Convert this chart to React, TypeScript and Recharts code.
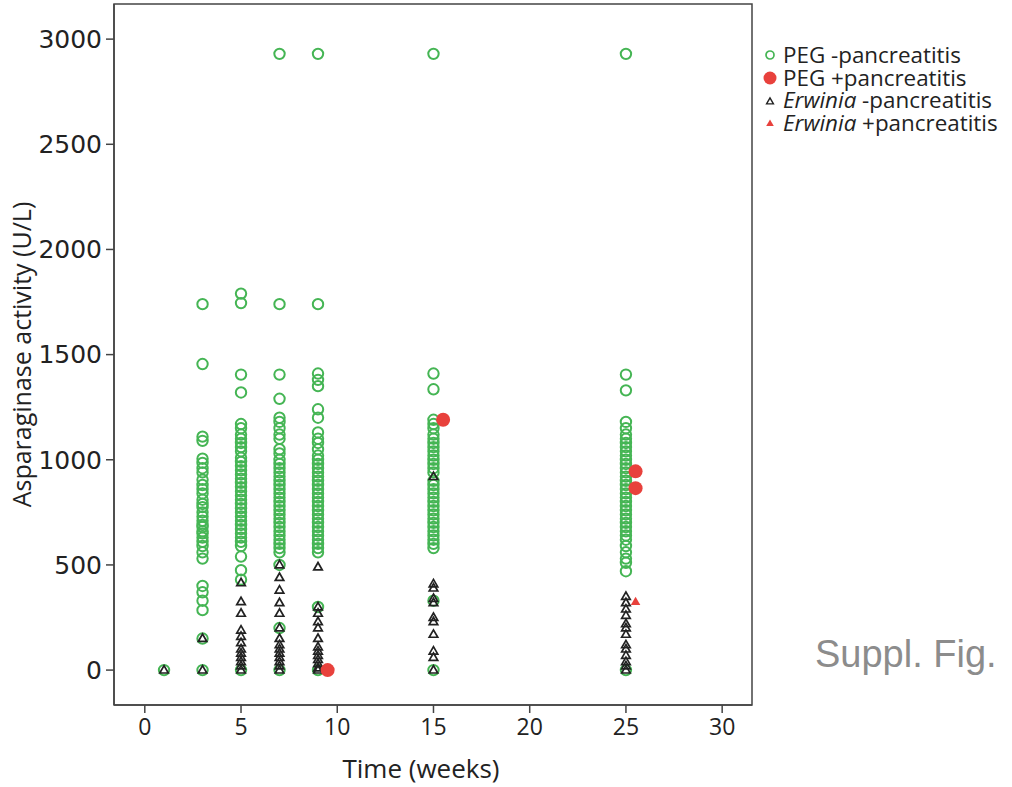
import { ReferenceArea, Scatter, ScatterChart, XAxis, YAxis } from 'recharts';

const WEEKS = [1, 3, 5, 7, 9, 15, 25];

// PEG, no pancreatitis — one list per week in WEEKS
const pegNeg: number[][] = [
  [0],
  [1740, 1455, 1110, 1090, 1005, 985, 960, 940, 905, 880, 860, 840, 810, 790, 775, 750, 730, 710, 690, 680, 660, 650, 630, 610, 590, 560, 530, 400, 370, 330, 285, 150, 0],
  [1790, 1745, 1405, 1320, 1170, 1150, 1120, 1100, 1080, 1060, 1040, 1010, 990, 970, 950, 930, 910, 890, 870, 850, 830, 810, 790, 770, 750, 730, 710, 690, 670, 650, 630, 610, 590, 540, 475, 430, 0],
  [2930, 1740, 1405, 1290, 1200, 1180, 1150, 1120, 1100, 1050, 1030, 1000, 980, 960, 940, 920, 900, 880, 860, 840, 820, 800, 780, 760, 740, 720, 700, 680, 660, 640, 620, 600, 580, 560, 500, 200, 0],
  [2930, 1740, 1410, 1380, 1350, 1240, 1200, 1130, 1100, 1080, 1050, 1020, 1000, 980, 960, 940, 920, 900, 880, 860, 840, 820, 800, 780, 760, 740, 720, 700, 680, 660, 640, 620, 600, 580, 560, 300, 0],
  [2930, 1410, 1335, 1190, 1170, 1150, 1120, 1100, 1080, 1060, 1040, 1020, 1000, 980, 960, 940, 900, 880, 860, 840, 820, 800, 780, 760, 740, 720, 700, 680, 660, 640, 620, 600, 580, 330, 0],
  [2930, 1405, 1330, 1180, 1150, 1120, 1100, 1080, 1060, 1040, 1020, 1000, 980, 960, 940, 920, 900, 880, 860, 840, 820, 800, 780, 760, 740, 720, 700, 680, 660, 640, 620, 590, 560, 530, 510, 470, 0],
];

// Erwinia, no pancreatitis
const erwNeg: number[][] = [
  [0],
  [150, 0],
  [415, 325, 270, 190, 160, 130, 100, 80, 60, 40, 20, 0],
  [500, 440, 380, 320, 270, 200, 150, 120, 100, 80, 60, 40, 20, 0],
  [490, 300, 270, 230, 200, 150, 110, 90, 70, 50, 30, 10, 0],
  [920, 410, 390, 340, 320, 250, 230, 170, 90, 60, 0],
  [350, 320, 290, 260, 220, 200, 170, 120, 100, 70, 40, 20, 0],
];

// pancreatitis cases, drawn slightly right of the week column
const pegPosWeeks = [9.5, 15.5, 25.5, 25.5];
const pegPosValues = [0, 1190, 945, 865];
const erwPosWeeks = [25.5];
const erwPosValues = [325];

const X_TICKS = [0, 5, 10, 15, 20, 25, 30];
const Y_TICKS = [0, 500, 1000, 1500, 2000, 2500, 3000];

const GREEN = '#45b554';
const RED = '#e8413c';
const DARK = '#222';
const FONT = '"Open Sans", sans-serif';

const byWeek = (cols: number[][]) => cols.flatMap((vals, i) => vals.map(y => ({ x: WEEKS[i], y })));
const pairs = (xs: number[], ys: number[]) => xs.map((x, i) => ({ x, y: ys[i] }));

const tri = (cx: number, cy: number, s: number) =>
  `${cx},${cy - s} ${cx - s * 0.95},${cy + s * 0.65} ${cx + s * 0.95},${cy + s * 0.65}`;

const OpenCircle = ({ cx, cy }: any) => <circle cx={cx} cy={cy} r={5.2} fill="none" stroke={GREEN} strokeWidth={2} />;
const RedDot = ({ cx, cy }: any) => <circle cx={cx} cy={cy} r={7} fill={RED} />;
const OpenTri = ({ cx, cy }: any) => <polygon points={tri(cx, cy, 4.5)} fill="none" stroke={DARK} strokeWidth={1.7} />;
const RedTri = ({ cx, cy }: any) => <polygon points={tri(cx, cy, 5)} fill={RED} />;

const legendItems = [
  { icon: <circle cx={7} cy={7} r={4} fill="none" stroke={GREEN} strokeWidth={1.7} />, label: <>PEG -pancreatitis</> },
  { icon: <circle cx={7} cy={7} r={6.5} fill={RED} />, label: <>PEG +pancreatitis</> },
  { icon: <polygon points={tri(7, 7.5, 3.6)} fill="none" stroke={DARK} strokeWidth={1.4} />, label: <><i>Erwinia</i> -pancreatitis</> },
  { icon: <polygon points={tri(7, 7.5, 4)} fill={RED} />, label: <><i>Erwinia</i> +pancreatitis</> },
];

function LegendBox() {
  return (
    <div style={{ position: 'absolute', left: 763, top: 44, fontFamily: FONT, fontSize: 22.4, color: '#222', lineHeight: '22.7px' }}>
      {legendItems.map((it, i) => (
        <div key={i} style={{ display: 'flex', alignItems: 'center', whiteSpace: 'nowrap', height: 22.7 }}>
          <svg width={14} height={14} style={{ marginRight: 6 }}>{it.icon}</svg>
          <span>{it.label}</span>
        </div>
      ))}
    </div>
  );
}

export default function App() {
  return (
    <div style={{ position: 'absolute', left: 0, top: 0, width: 1012, height: 787, background: '#fff', overflow: 'hidden' }}>
      <ScatterChart width={1012} height={787} margin={{ top: 4, right: 260, bottom: 0, left: 54 }}>
        <XAxis
          dataKey="x" type="number" domain={[-1.6, 31.55]} ticks={X_TICKS} allowDataOverflow
          height={82} tickSize={8} tickMargin={6}
          axisLine={{ stroke: '#444', strokeWidth: 1.5 }} tickLine={{ stroke: '#444', strokeWidth: 1.5 }}
          tick={{ fill: DARK, fontSize: 23, fontFamily: FONT }}
          label={{ value: 'Time (weeks)', position: 'insideBottom', offset: 9, dx: -12, fill: DARK, fontSize: 26, fontFamily: FONT }}
        />
        <YAxis
          dataKey="y" type="number" domain={[-166, 3167]} ticks={Y_TICKS} allowDataOverflow
          width={60} tickSize={8} tickMargin={4}
          axisLine={{ stroke: '#444', strokeWidth: 1.5 }} tickLine={{ stroke: '#444', strokeWidth: 1.5 }}
          tick={{ fill: DARK, fontSize: 25, fontFamily: '"DejaVu Sans", sans-serif' }}
          label={{ value: 'Asparaginase activity (U/L)', angle: -90, position: 'insideLeft', offset: -32, fill: DARK, fontSize: 25, fontFamily: FONT, style: { textAnchor: 'middle' } }}
        />
        <ReferenceArea x1={-1.6} x2={31.55} y1={-166} y2={3167} fill="none" stroke="#444" strokeWidth={1.5} ifOverflow="visible" />
        <Scatter name="PEG -pancreatitis" data={byWeek(pegNeg)} shape={OpenCircle} isAnimationActive={false} />
        <Scatter name="Erwinia -pancreatitis" data={byWeek(erwNeg)} shape={OpenTri} isAnimationActive={false} />
        <Scatter name="PEG +pancreatitis" data={pairs(pegPosWeeks, pegPosValues)} shape={RedDot} isAnimationActive={false} />
        <Scatter name="Erwinia +pancreatitis" data={pairs(erwPosWeeks, erwPosValues)} shape={RedTri} isAnimationActive={false} />
      </ScatterChart>
      <LegendBox />
      <div style={{ position: 'absolute', left: 815, top: 635, fontFamily: '"Liberation Sans", Arial, sans-serif', fontSize: 38, lineHeight: '38px', color: '#8c8c8c', whiteSpace: 'nowrap' }}>
        Suppl. Fig.
      </div>
    </div>
  );
}
